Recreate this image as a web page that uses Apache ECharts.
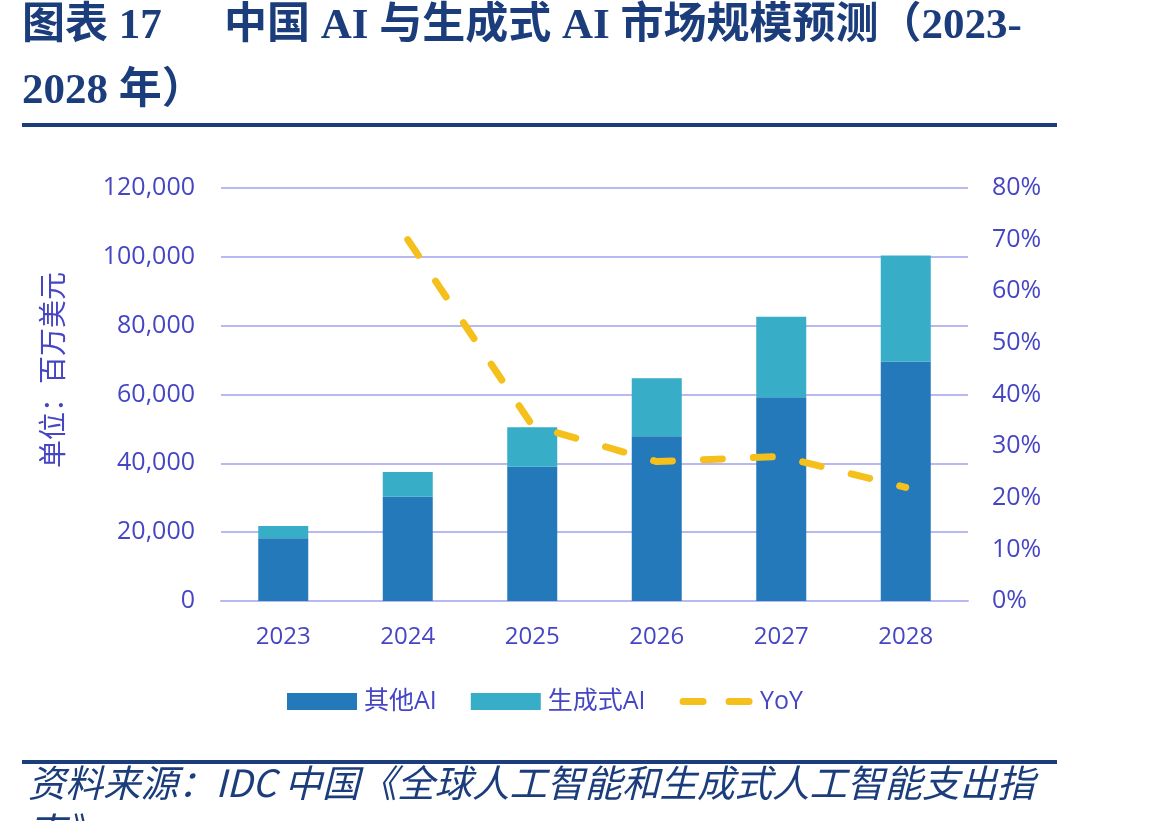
<!DOCTYPE html>
<html>
<head>
<meta charset="utf-8">
<title>中国 AI 与生成式 AI 市场规模预测</title>
<script src="https://cdn.jsdelivr.net/npm/echarts@6/dist/echarts.min.js"></script>
<style>
  html, body { margin: 0; padding: 0; background: #fff; }
  #main { width: 1173px; height: 821px; }
</style>
</head>
<body>
<div id="main"></div>
<script>
  // values (unit: million USD, YoY in %)
  var years = ['2023', '2024', '2025', '2026', '2027', '2028'];
  var otherAI = [18200, 30300, 39000, 47900, 59200, 69600];
  var genAI = [3600, 7200, 11500, 16800, 23400, 30800];
  var yoy = ['-', 70, 34, 27, 28, 22];

  var navy = '#1c3d7c';
  var labelColor = '#4646c4';
  var gridColor = '#b9b9f2';
  var yoyColor = '#f5bf1c';
  var titleFont = "bold 43px 'Liberation Serif', 'Noto Sans CJK SC', serif";
  var noteFont = "italic 37.5px 'Noto Sans CJK SC', sans-serif";

  var myChart = echarts.init(document.getElementById('main'));

  myChart.setOption({
    backgroundColor: '#fff',
    animation: false,
    textStyle: { fontFamily: "'Open Sans', 'Noto Sans CJK SC', sans-serif" },
    grid: { left: 221, right: 205, top: 188, bottom: 220 },
    legend: {
      left: 282,
      top: 684,
      itemWidth: 70,
      itemHeight: 17,
      itemGap: 34,
      textStyle: { color: labelColor, fontSize: 25, padding: [0, 0, 0, 2] },
      data: [
        { name: '其他AI', icon: 'rect' },
        { name: '生成式AI', icon: 'rect' },
        // hide the marker dot, keep the dashed stroke
        {
          name: 'YoY',
          itemStyle: { color: 'rgba(0,0,0,0)', borderWidth: 0 },
          lineStyle: { color: yoyColor, width: 7, type: [20, 26], cap: 'round' }
        }
      ]
    },
    xAxis: {
      type: 'category',
      data: years,
      axisLine: { lineStyle: { color: gridColor, width: 2 } },
      axisTick: { show: false },
      axisLabel: { color: labelColor, fontSize: 24, margin: 24 }
    },
    yAxis: [{
      type: 'value',
      min: 0,
      max: 120000,
      interval: 20000,
      axisLine: { show: false },
      axisTick: { show: false },
      splitLine: { lineStyle: { color: gridColor, width: 2 } },
      axisLabel: {
        color: labelColor, fontSize: 25, margin: 26,
        formatter: function (v) { return v.toLocaleString('en-US'); }
      }
    }, {
      type: 'value',
      min: 0,
      max: 80,
      interval: 10,
      axisLine: { show: false },
      axisTick: { show: false },
      splitLine: { show: false },
      axisLabel: { color: labelColor, fontSize: 25, margin: 24, formatter: '{value}%' }
    }],
    series: [{
      name: '其他AI',
      type: 'bar',
      stack: 'total',
      barWidth: 50,
      itemStyle: { color: '#2479bb' },
      data: otherAI
    }, {
      name: '生成式AI',
      type: 'bar',
      stack: 'total',
      barWidth: 50,
      itemStyle: { color: '#37adc8' },
      data: genAI
    }, {
      name: 'YoY',
      type: 'line',
      yAxisIndex: 1,
      symbol: 'none',
      itemStyle: { color: yoyColor },
      lineStyle: { color: yoyColor, width: 7, type: [19, 31], cap: 'round' },
      data: yoy
    }],
    graphic: [
      { type: 'text', left: 22, top: 5, style: { text: '图表 17', font: titleFont, fill: navy } },
      { type: 'text', left: 224, top: 5, style: { text: '中国 AI 与生成式 AI 市场规模预测（2023-', font: titleFont, fill: navy } },
      { type: 'text', left: 22, top: 70, style: { text: '2028 年）', font: titleFont, fill: navy } },
      { type: 'rect', shape: { x: 22, y: 123, width: 1035, height: 4 }, style: { fill: navy } },
      {
        type: 'text', x: 52, y: 370, rotation: Math.PI / 2,
        style: {
          text: '单位：百万美元',
          font: "28px 'Noto Sans CJK SC', sans-serif",
          fill: labelColor, align: 'center', verticalAlign: 'middle'
        }
      },
      { type: 'rect', shape: { x: 22, y: 760, width: 1035, height: 4 }, style: { fill: navy } },
      { type: 'text', left: 28, top: 764, style: { text: '资料来源：IDC 中国《全球人工智能和生成式人工智能支出指', font: noteFont, fill: navy } },
      { type: 'text', left: 28, top: 812, style: { text: '南》', font: noteFont, fill: navy } }
    ]
  });

  window.addEventListener('resize', function () {
    myChart.resize();
  });
</script>
</body>
</html>
